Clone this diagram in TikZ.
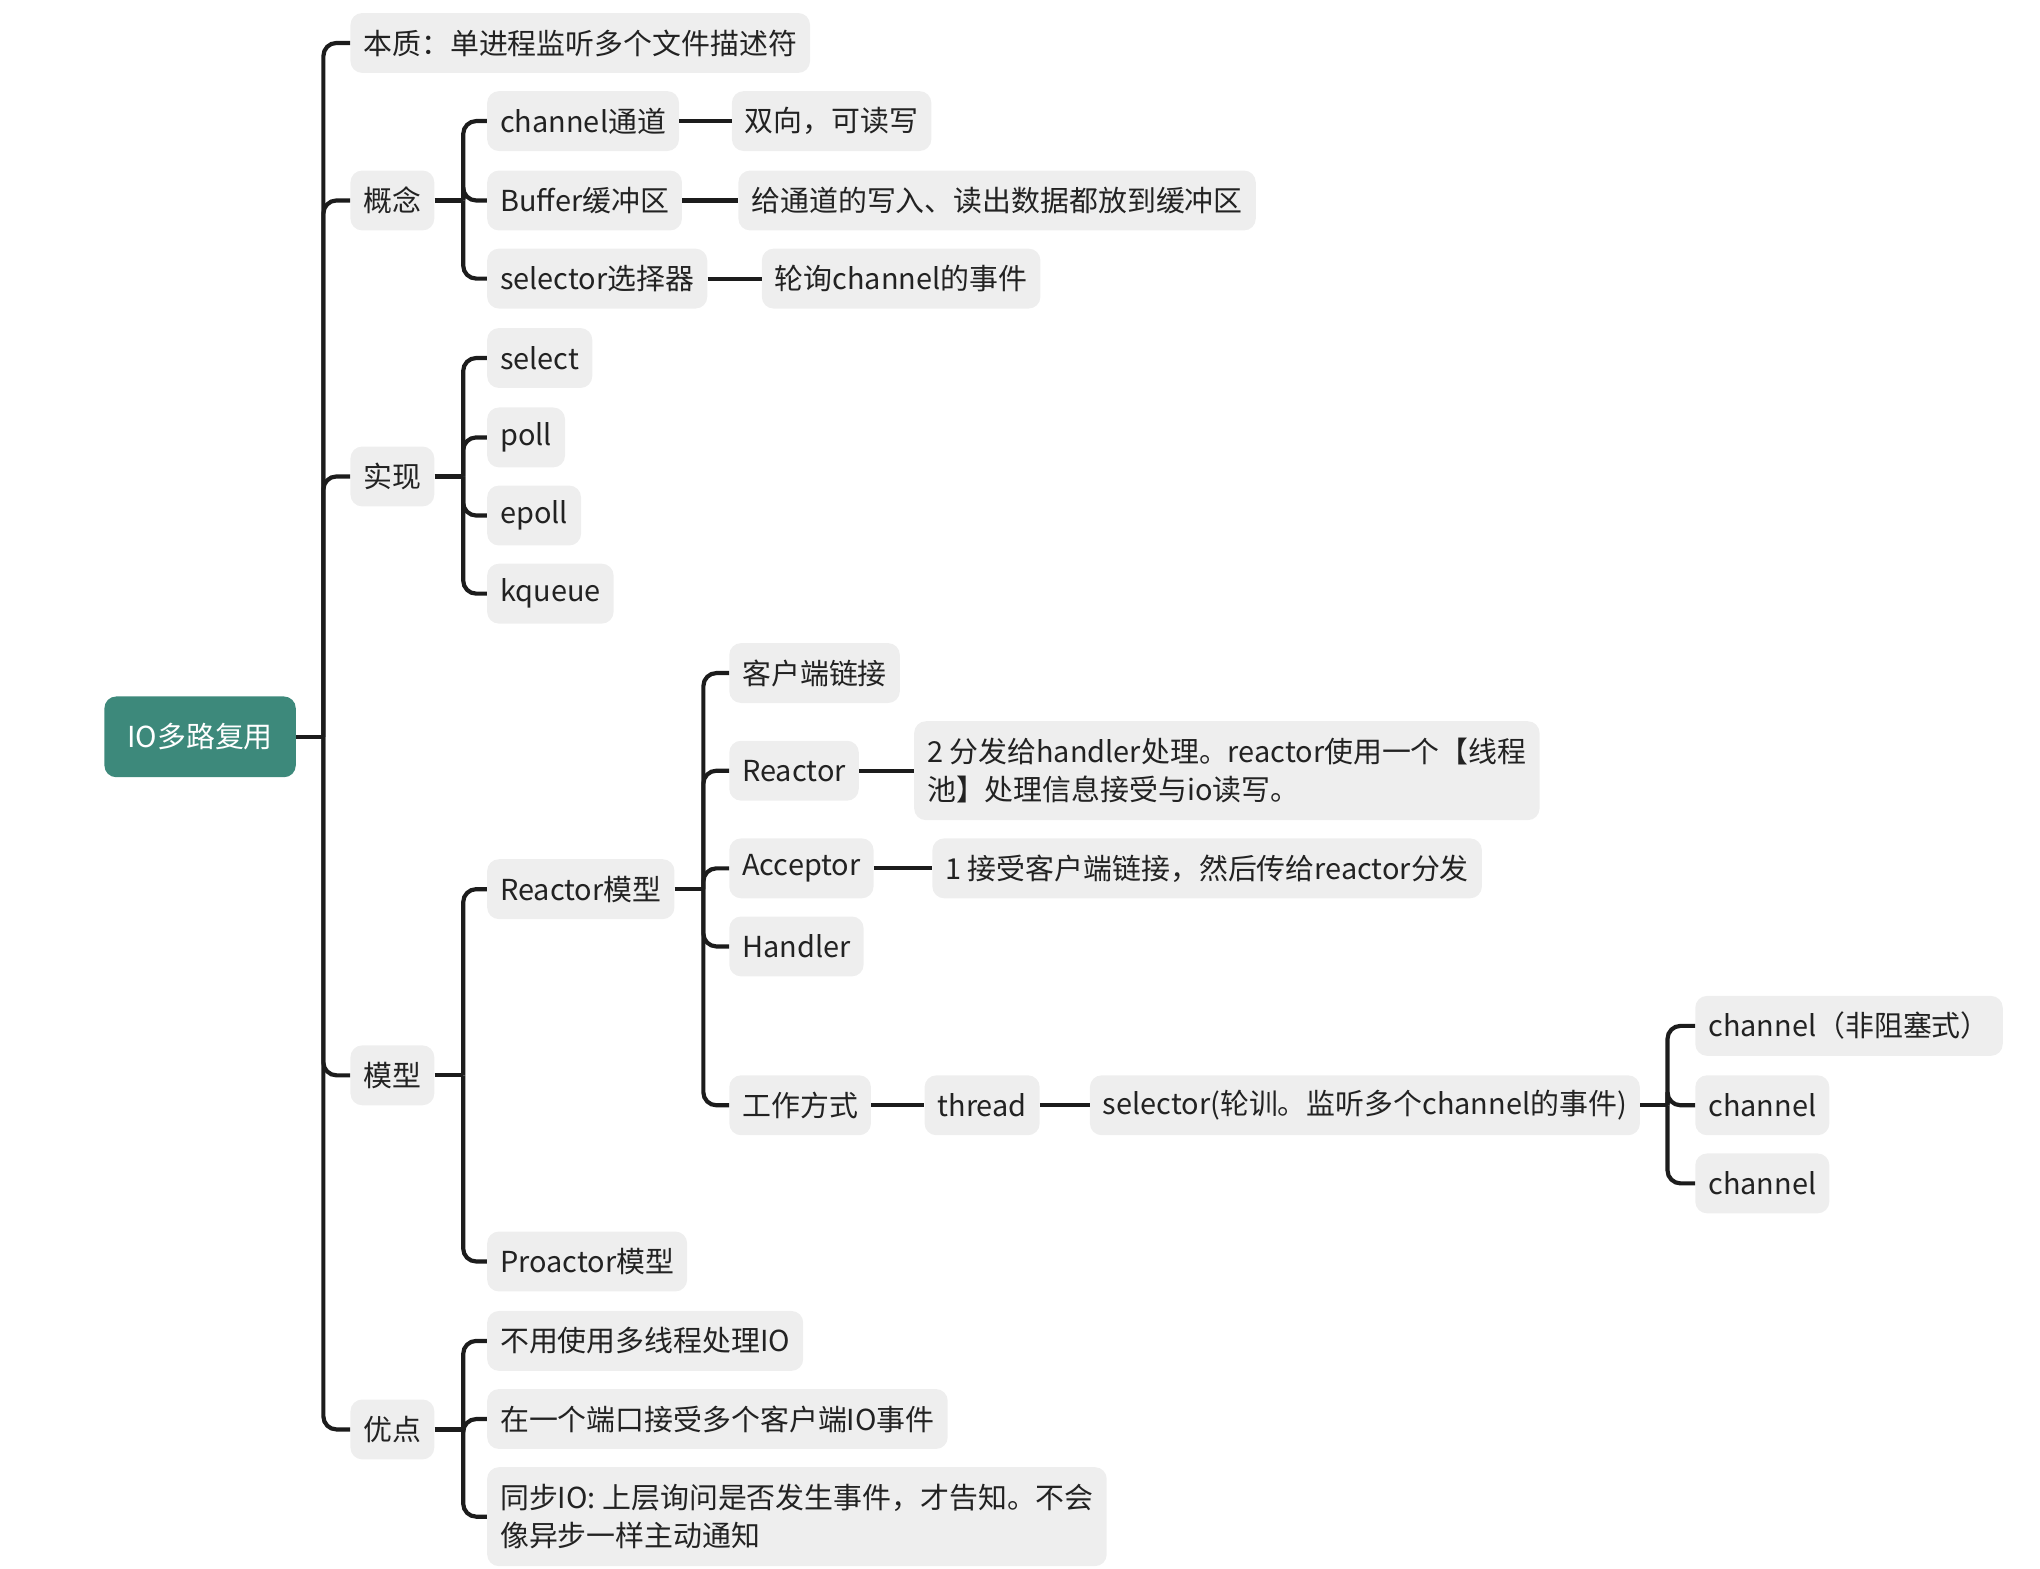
\documentclass[tikz,border=0pt]{standalone}
\usepackage{fontspec}
\setmainfont{Noto Sans CJK SC}
\definecolor{boxgray}{HTML}{EEEEEE}
\definecolor{rootc}{HTML}{3D897B}
\definecolor{linec}{HTML}{1C1C1C}
\definecolor{textc}{HTML}{222222}
\begin{document}
\begin{tikzpicture}[x=1pt,y=-1pt,
  box/.style={fill=boxgray, rounded corners=9pt, anchor=west, minimum height=46pt,
    inner xsep=10pt, inner ysep=7pt, text=textc, align=left,
    font=\fontsize{22.2}{29}\selectfont},
  twoline/.style={minimum height=76pt},
  rootbox/.style={box, fill=rootc, text=white, minimum height=62pt, minimum width=147pt, align=center},
  conn/.style={draw=linec, line width=3.2pt, rounded corners=10pt},
]
\useasboundingbox (0,0) rectangle (1567,1204.5);

% root
\node[rootbox] (root) at (80,566) {IO多路复用};

% level 1
\node[box] (bz) at (269,33) {本质：单进程监听多个文件描述符};
\node[box] (gn) at (269,154) {概念};
\node[box] (sx) at (269,366) {实现};
\node[box] (mx) at (269,826) {模型};
\node[box] (yd) at (269,1098) {优点};

% 概念
\node[box] (ch) at (374,93) {channel通道};
\node[box] (bf) at (374,154) {Buffer缓冲区};
\node[box] (sl) at (374,214) {selector选择器};
\node[box] (chd) at (562,93) {双向，可读写};
\node[box] (bfd) at (567,154) {给通道的写入、读出数据都放到缓冲区};
\node[box] (sld) at (585,214) {轮询channel的事件};

% 实现
\node[box] (s1) at (374,275) {select};
\node[box] (s2) at (374,336) {poll};
\node[box] (s3) at (374,396) {epoll};
\node[box] (s4) at (374,456) {kqueue};

% 模型
\node[box] (rm) at (374,683) {Reactor模型};
\node[box] (pm) at (374,969) {Proactor模型};
\node[box] (kh) at (560,517) {客户端链接};
\node[box] (re) at (560,592) {Reactor};
\node[box, twoline] (red) at (702,592) {2 分发给handler处理。reactor使用一个【线程\\池】处理信息接受与io读写。};
\node[box] (ac) at (560,667) {Acceptor};
\node[box] (acd) at (716,667) {1 接受客户端链接，然后传给reactor分发};
\node[box] (hd) at (560,727) {Handler};
\node[box] (gz) at (560,849) {工作方式};
\node[box] (th) at (710,849) {thread};
\node[box] (se) at (837,849) {selector(轮训。监听多个channel的事件)};
\node[box] (c1) at (1302,788) {channel（非阻塞式）};
\node[box] (c2) at (1302,849) {channel};
\node[box] (c3) at (1302,909) {channel};

% 优点
\node[box] (y1) at (374,1030) {不用使用多线程处理IO};
\node[box] (y2) at (374,1090) {在一个端口接受多个客户端IO事件};
\node[box, twoline] (y3) at (374,1165) {同步IO: 上层询问是否发生事件，才告知。不会\\像异步一样主动通知};

% connectors: root
\coordinate (t0) at ([xshift=21pt]root.east);
\draw[conn] (root.east) -- (t0);
\foreach \c in {bz,gn,sx,mx,yd} \draw[conn] (t0) |- (\c.west);

% 概念
\coordinate (t1) at ([xshift=22pt]gn.east);
\draw[conn] (gn.east) -- (t1);
\foreach \c in {ch,bf,sl} \draw[conn] (t1) |- (\c.west);
\draw[conn] (ch.east) -- (chd.west);
\draw[conn] (bf.east) -- (bfd.west);
\draw[conn] (sl.east) -- (sld.west);

% 实现
\coordinate (t2) at ([xshift=22pt]sx.east);
\draw[conn] (sx.east) -- (t2);
\foreach \c in {s1,s2,s3,s4} \draw[conn] (t2) |- (\c.west);

% 模型
\coordinate (t3) at ([xshift=22pt]mx.east);
\draw[conn] (mx.east) -- (t3);
\foreach \c in {rm,pm} \draw[conn] (t3) |- (\c.west);
\coordinate (t4) at ([xshift=22pt]rm.east);
\draw[conn] (rm.east) -- (t4);
\foreach \c in {kh,re,ac,hd,gz} \draw[conn] (t4) |- (\c.west);
\draw[conn] (re.east) -- (red.west);
\draw[conn] (ac.east) -- (acd.west);
\draw[conn] (gz.east) -- (th.west);
\draw[conn] (th.east) -- (se.west);
\coordinate (t5) at ([xshift=21pt]se.east);
\draw[conn] (se.east) -- (t5);
\foreach \c in {c1,c2,c3} \draw[conn] (t5) |- (\c.west);

% 优点
\coordinate (t6) at ([xshift=22pt]yd.east);
\draw[conn] (yd.east) -- (t6);
\foreach \c in {y1,y2,y3} \draw[conn] (t6) |- (\c.west);
\end{tikzpicture}
\end{document}
